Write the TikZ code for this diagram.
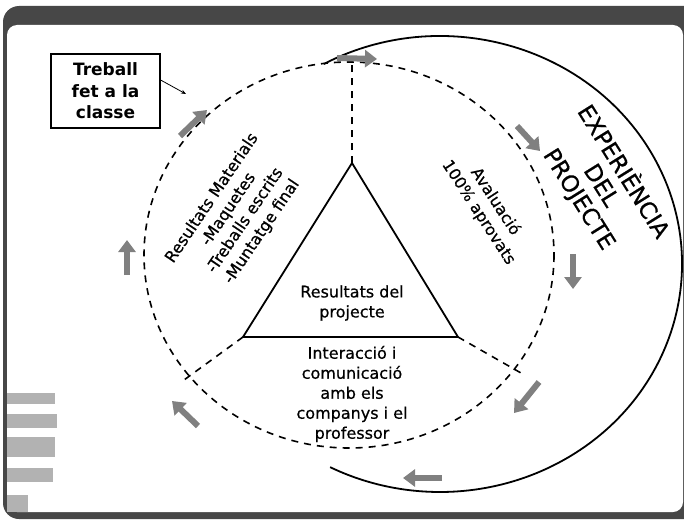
\documentclass[tikz,border=0pt]{standalone}
\usepackage{fontspec}
\setmainfont{DejaVu Sans}
\newfontfamily\heavyfont{DejaVu Sans}[FakeBold=0.6]
\usetikzlibrary{arrows.meta}
\begin{document}
\begin{tikzpicture}[x=1pt,y=-1pt,
  dashring/.style={dash pattern=on 7pt off 6pt, line width=1.6pt},
  solidline/.style={line width=1.8pt},
  blockarrow/.style={line width=6pt, draw=black!50, -{Triangle[length=12pt,width=17pt]}},
  lbl/.style={align=center, font=\heavyfont\fontsize{16}{20}\selectfont, inner sep=0pt},
  smudge/.style={fill=black!30},
]
\useasboundingbox (0,0) rectangle (684,519);
% frame
\fill[black!72, rounded corners=16pt] (3,6) rectangle (700,519);
\fill[white, rounded corners=10pt] (7,25) rectangle (683,512);
% smudges at lower left
\fill[smudge] (7,393) rectangle (55,404);
\fill[smudge] (7,414) rectangle (57,428);
\fill[smudge] (7,437) rectangle (55,457);
\fill[smudge] (7,468) rectangle (53,482);
\fill[smudge] (7,495) rectangle (28,512);
% dashed ring
\draw[dashring] (349,255) ellipse [x radius=205, y radius=193];
% big solid arc
\draw[solidline] (440,264) ++(-118.7:242 and 228) arc[start angle=-118.7, end angle=117, x radius=242, y radius=228];
% triangle
\coordinate (A) at (352,163);
\coordinate (B) at (243,337);
\coordinate (C) at (458,337);
\draw[solidline, line join=miter] (A) -- (B) -- (C) -- cycle;
\coordinate (At) at (352,60);
\coordinate (Bt) at (184,380);
\coordinate (Ct) at (521,373);
\draw[dashring] (A) -- (At);
\draw[dashring] (B) -- (Bt);
\draw[dashring] (C) -- (Ct);
% texts
\node[lbl, rotate=56] (mat) at (237,215) {Resultats Materials\\-Maquetes\\-Treballs escrits\\-Muntatge final};
\node[lbl, rotate=-57] (eval) at (487,207) {Avaluació\\100\% aprovats};
\node[lbl, rotate=-58, font=\heavyfont\fontsize{23}{26}\selectfont] (exp) at (602,185) {EXPERIÈNCIA\\DEL\\PROJECTE};
\node[lbl] (res) at (352,303) {Resultats del\\projecte};
\node[lbl] (int) at (352,394) {Interacció i\\comunicació\\amb els\\companys i el\\professor};
% box
\node[draw, line width=1.2pt, minimum width=109pt, minimum height=74pt, inner sep=0pt, align=center, font=\bfseries\fontsize{17}{21.5}\selectfont] (tb) at (105.5,91) {Treball\\fet a la\\classe};
\coordinate (tbp) at (186,94);
\draw[line width=0.8pt, -{Stealth[length=5pt,width=4pt]}] ([yshift=11pt]tb.east) -- (tbp);
% block arrows
\draw[blockarrow] (337,58) -- (377,59);
\draw[blockarrow] (517,126) -- (540,151);
\draw[blockarrow] (573,254) -- (573,289);
\draw[blockarrow] (539,382) -- (514,413);
\draw[blockarrow] (442,478) -- (403,478);
\draw[blockarrow] (198,426) -- (172,401);
\draw[blockarrow] (127,275) -- (127,240);
\draw[blockarrow] (180,136) -- (207,110);
\end{tikzpicture}
\end{document}
